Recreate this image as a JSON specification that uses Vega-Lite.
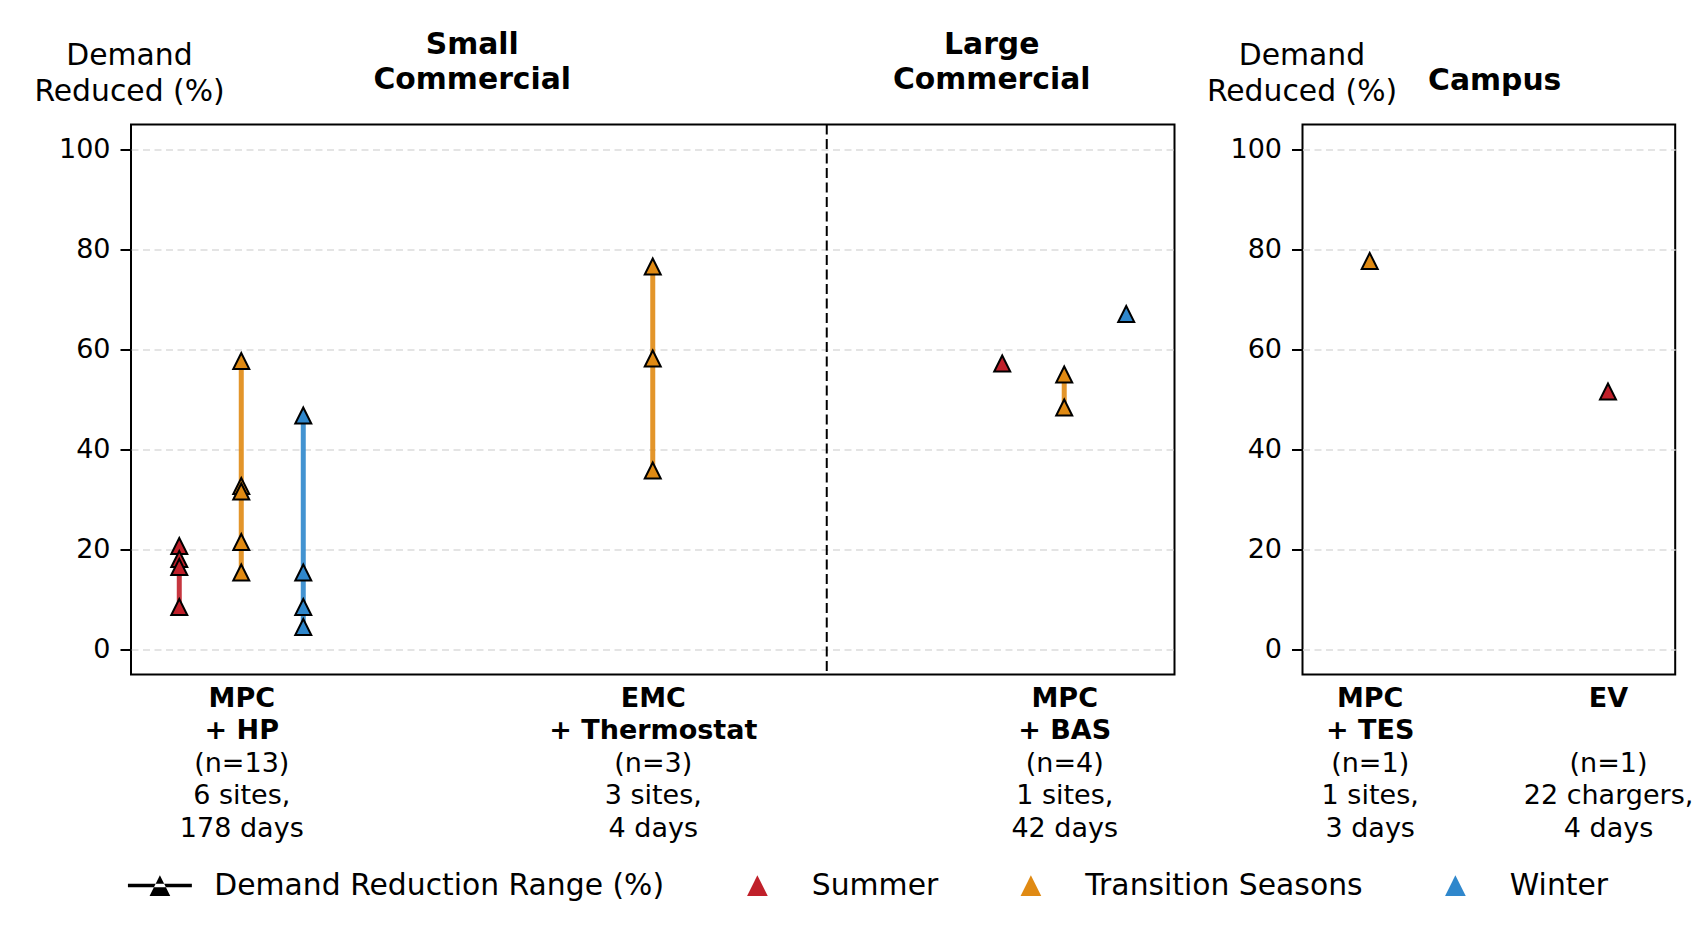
{
  "$schema": "https://vega.github.io/schema/vega-lite/v6.json",
  "padding": {"left": 32, "top": 27.5, "right": 5, "bottom": 5},
  "background": "white",
  "datasets": {
    "left": [
      {"group": "MPC + HP", "season": "Summer", "value": 20.7},
      {"group": "MPC + HP", "season": "Summer", "value": 18.1},
      {"group": "MPC + HP", "season": "Summer", "value": 16.5},
      {"group": "MPC + HP", "season": "Summer", "value": 8.5},
      {"group": "MPC + HP", "season": "Transition Seasons", "value": 57.7},
      {"group": "MPC + HP", "season": "Transition Seasons", "value": 32.7},
      {"group": "MPC + HP", "season": "Transition Seasons", "value": 31.6},
      {"group": "MPC + HP", "season": "Transition Seasons", "value": 21.5},
      {"group": "MPC + HP", "season": "Transition Seasons", "value": 15.4},
      {"group": "MPC + HP", "season": "Winter", "value": 46.8},
      {"group": "MPC + HP", "season": "Winter", "value": 15.4},
      {"group": "MPC + HP", "season": "Winter", "value": 8.5},
      {"group": "MPC + HP", "season": "Winter", "value": 4.5},
      {"group": "EMC + Thermostat", "season": "Transition Seasons", "value": 76.6},
      {"group": "EMC + Thermostat", "season": "Transition Seasons", "value": 58.2},
      {"group": "EMC + Thermostat", "season": "Transition Seasons", "value": 35.8},
      {"group": "MPC + BAS", "season": "Summer", "value": 57.2},
      {"group": "MPC + BAS", "season": "Transition Seasons", "value": 55.0},
      {"group": "MPC + BAS", "season": "Transition Seasons", "value": 48.4},
      {"group": "MPC + BAS", "season": "Winter", "value": 67.1}
    ],
    "right": [
      {"group": "MPC + TES", "season": "Transition Seasons", "value": 77.7},
      {"group": "EV", "season": "Summer", "value": 51.6}
    ]
  },
  "config": {
    "font": "DejaVu Sans",
    "view": {"stroke": "black", "strokeWidth": 2},
    "axis": {
      "labelFont": "DejaVu Sans",
      "titleFont": "DejaVu Sans",
      "labelColor": "black",
      "titleColor": "black",
      "domain": false
    },
    "legend": {"labelFont": "DejaVu Sans", "labelColor": "black"}
  },
  "resolve": {"scale": {"x": "independent", "y": "independent", "xOffset": "independent", "color": "shared", "shape": "shared", "stroke": "shared"}},
  "spacing": 127.5,
  "bounds": "flush",
  "hconcat": [
    {
      "width": 1043.5,
      "height": 550,
      "resolve": {"axis": {"x": "independent"}},
      "layer": [
        {
          "data": {"values": [{"group": "EMC + Thermostat"}]},
          "mark": {"type": "rule", "color": "black", "strokeWidth": 2, "strokeDash": [10, 4.5], "xOffset": 174},
          "encoding": {
            "x": {
              "field": "group", "type": "nominal",
              "scale": {"type": "point", "domain": ["MPC + HP", "EMC + Thermostat", "MPC + BAS"], "padding": 0.268},
              "axis": {
                "orient": "top", "title": null, "ticks": false, "tickSize": 0, "domain": false, "grid": false,
                "values": ["EMC + Thermostat", "MPC + BAS"],
                "labelExpr": "datum.value == 'EMC + Thermostat' ? ['Small', 'Commercial'] : ['Large', 'Commercial']",
                "labelFontWeight": "bold", "labelFontSize": 29.8, "labelLineHeight": 35.5, "labelAngle": 0,
                "labelBaseline": "alphabetic", "labelAlign": "center", "labelPadding": 71.2,
                "labelOffset": {"condition": {"test": "datum.value == 'EMC + Thermostat'", "value": -181}, "value": -73},
                "labelLimit": 1000, "labelOverlap": false, "labelBound": false
              }
            }
          }
        },
        {
          "data": {"name": "left"},
          "mark": {"type": "rule", "strokeWidth": 5, "opacity": 0.9},
          "encoding": {
            "x": {
              "field": "group", "type": "nominal",
              "scale": {"type": "point", "domain": ["MPC + HP", "EMC + Thermostat", "MPC + BAS"], "padding": 0.268},
              "axis": {
                "orient": "bottom", "title": null, "ticks": false, "tickSize": 0, "domain": false, "grid": false,
                "labelExpr": "datum.value == 'MPC + HP' ? ['MPC', '+ HP'] : datum.value == 'EMC + Thermostat' ? ['EMC', '+ Thermostat'] : ['MPC', '+ BAS']",
                "labelFontWeight": "bold", "labelFontSize": 27, "labelLineHeight": 32.5,
                "labelBaseline": "top", "labelAlign": "center", "labelPadding": 10.7,
                "labelLimit": 1000, "labelOverlap": false, "labelAngle": 0
              }
            },
            "xOffset": {"field": "season", "type": "nominal", "scale": {"type": "point", "domain": ["Summer", "Transition Seasons", "Winter"], "range": [-62, 62], "padding": 0}},
            "y": {
              "aggregate": "min", "field": "value", "type": "quantitative",
              "scale": {"domain": [-5, 105], "nice": false, "zero": false},
              "axis": {
                "values": [0, 20, 40, 60, 80, 100],
                "title": ["Demand", "Reduced (%)"],
                "titleAngle": 0, "titleAlign": "center", "titleBaseline": "alphabetic",
                "titleX": -2, "titleY": -59.7, "titleFontSize": 29.8, "titleFontWeight": "normal", "titleLineHeight": 36,
                "labelFontSize": 27, "labelPadding": 10, "tickSize": 11, "tickWidth": 2, "tickColor": "black",
                "grid": true, "gridColor": "#dcdcdc", "gridDash": [7, 4.5], "gridWidth": 1.3
              }
            },
            "y2": {"aggregate": "max", "field": "value"},
            "stroke": {
              "field": "season", "type": "nominal",
              "scale": {"domain": ["Summer", "Transition Seasons", "Winter"], "range": ["#c0202a", "#e08a13", "#2f87cc"]},
              "legend": null
            }
          }
        },
        {
          "data": {"name": "left"},
          "mark": {"type": "point", "filled": true, "opacity": 1, "size": 256, "stroke": "black", "strokeWidth": 2},
          "encoding": {
            "x": {
              "field": "group", "type": "nominal",
              "scale": {"type": "point", "domain": ["MPC + HP", "EMC + Thermostat", "MPC + BAS"], "padding": 0.268},
              "axis": {
                "orient": "bottom", "title": null, "ticks": false, "tickSize": 0, "domain": false, "grid": false,
                "labelExpr": "datum.value == 'MPC + HP' ? ['(n=13)', '6 sites,', '178 days'] : datum.value == 'EMC + Thermostat' ? ['(n=3)', '3 sites,', '4 days'] : ['(n=4)', '1 sites,', '42 days']",
                "labelFontWeight": "normal", "labelFontSize": 27, "labelLineHeight": 32.5,
                "labelBaseline": "top", "labelAlign": "center", "labelPadding": 75.7,
                "labelLimit": 1000, "labelOverlap": false, "labelAngle": 0
              }
            },
            "xOffset": {"field": "season", "type": "nominal", "scale": {"type": "point", "domain": ["Summer", "Transition Seasons", "Winter"], "range": [-62, 62], "padding": 0}},
            "y": {
              "field": "value", "type": "quantitative",
              "scale": {"domain": [-5, 105], "nice": false, "zero": false},
              "axis": {
                "values": [0, 20, 40, 60, 80, 100],
                "title": ["Demand", "Reduced (%)"],
                "titleAngle": 0, "titleAlign": "center", "titleBaseline": "alphabetic",
                "titleX": -2, "titleY": -59.7, "titleFontSize": 29.8, "titleFontWeight": "normal", "titleLineHeight": 36,
                "labelFontSize": 27, "labelPadding": 10, "tickSize": 11, "tickWidth": 2, "tickColor": "black",
                "grid": true, "gridColor": "#dcdcdc", "gridDash": [7, 4.5], "gridWidth": 1.3
              }
            },
            "color": {
              "field": "season", "type": "nominal",
              "scale": {"domain": ["Demand Reduction Range (%)", "Summer", "Transition Seasons", "Winter"], "range": ["black", "#c0202a", "#e08a13", "#2f87cc"]},
              "legend": {
                "title": null, "orient": "none", "legendX": 14, "legendY": 746,
                "direction": "horizontal", "columns": 4, "symbolSize": 428, "symbolStrokeWidth": 0,
                "labelFontSize": 29.8, "labelOffset": 39.5, "columnPadding": 77.5, "labelLimit": 1000, "padding": 0
              }
            },
            "shape": {
              "field": "season", "type": "nominal",
              "scale": {"domain": ["Demand Reduction Range (%)", "Summer", "Transition Seasons", "Winter"], "range": ["M-3.09,-0.164H3.09V0.164H-3.09Z M0,-1L-1,1L1,1Z", "M0,-1L-1,1L1,1Z", "M0,-1L-1,1L1,1Z", "M0,-1L-1,1L1,1Z"]},
              "legend": {
                "title": null, "orient": "none", "legendX": 14, "legendY": 746,
                "direction": "horizontal", "columns": 4, "symbolSize": 428, "symbolStrokeWidth": 0,
                "labelFontSize": 29.8, "labelOffset": 39.5, "columnPadding": 77.5, "labelLimit": 1000, "padding": 0
              }
            }
          }
        }
      ]
    },
    {
      "width": 372.7,
      "height": 550,
      "resolve": {"axis": {"x": "independent"}},
      "layer": [
        {
          "data": {"values": [{"group": "MPC + TES"}]},
          "mark": {"type": "rule", "opacity": 0},
          "encoding": {
            "x": {
              "field": "group", "type": "nominal",
              "scale": {"type": "point", "domain": ["MPC + TES", "EV"], "padding": 0.282},
              "axis": {
                "orient": "top", "title": null, "ticks": false, "tickSize": 0, "domain": false, "grid": false,
                "values": ["MPC + TES"],
                "labelExpr": "'Campus'",
                "labelFontWeight": "bold", "labelFontSize": 29.8, "labelAngle": 0,
                "labelBaseline": "alphabetic", "labelAlign": "center", "labelPadding": 35.2,
                "labelOffset": 124.5, "labelLimit": 1000, "labelOverlap": false, "labelBound": false
              }
            }
          }
        },
        {
          "data": {"name": "right"},
          "mark": {"type": "rule", "strokeWidth": 5, "opacity": 0.9},
          "encoding": {
            "x": {
              "field": "group", "type": "nominal",
              "scale": {"type": "point", "domain": ["MPC + TES", "EV"], "padding": 0.282},
              "axis": {
                "orient": "bottom", "title": null, "ticks": false, "tickSize": 0, "domain": false, "grid": false,
                "labelExpr": "datum.value == 'MPC + TES' ? ['MPC', '+ TES'] : ['EV', '']",
                "labelFontWeight": "bold", "labelFontSize": 27, "labelLineHeight": 32.5,
                "labelBaseline": "top", "labelAlign": "center", "labelPadding": 10.7,
                "labelLimit": 1000, "labelOverlap": false, "labelAngle": 0
              }
            },
            "y": {
              "aggregate": "min", "field": "value", "type": "quantitative",
              "scale": {"domain": [-5, 105], "nice": false, "zero": false},
              "axis": {
                "values": [0, 20, 40, 60, 80, 100],
                "title": ["Demand", "Reduced (%)"],
                "titleAngle": 0, "titleAlign": "center", "titleBaseline": "alphabetic",
                "titleX": -1, "titleY": -59.7, "titleFontSize": 29.8, "titleFontWeight": "normal", "titleLineHeight": 36,
                "labelFontSize": 27, "labelPadding": 10, "tickSize": 11, "tickWidth": 2, "tickColor": "black",
                "grid": true, "gridColor": "#dcdcdc", "gridDash": [7, 4.5], "gridWidth": 1.3
              }
            },
            "y2": {"aggregate": "max", "field": "value"},
            "stroke": {
              "field": "season", "type": "nominal",
              "scale": {"domain": ["Summer", "Transition Seasons", "Winter"], "range": ["#c0202a", "#e08a13", "#2f87cc"]},
              "legend": null
            }
          }
        },
        {
          "data": {"name": "right"},
          "mark": {"type": "point", "filled": true, "opacity": 1, "size": 256, "stroke": "black", "strokeWidth": 2},
          "encoding": {
            "x": {
              "field": "group", "type": "nominal",
              "scale": {"type": "point", "domain": ["MPC + TES", "EV"], "padding": 0.282},
              "axis": {
                "orient": "bottom", "title": null, "ticks": false, "tickSize": 0, "domain": false, "grid": false,
                "labelExpr": "datum.value == 'MPC + TES' ? ['(n=1)', '1 sites,', '3 days'] : ['(n=1)', '22 chargers,', '4 days']",
                "labelFontWeight": "normal", "labelFontSize": 27, "labelLineHeight": 32.5,
                "labelBaseline": "top", "labelAlign": "center", "labelPadding": 75.7,
                "labelLimit": 1000, "labelOverlap": false, "labelAngle": 0
              }
            },
            "y": {
              "field": "value", "type": "quantitative",
              "scale": {"domain": [-5, 105], "nice": false, "zero": false},
              "axis": {
                "values": [0, 20, 40, 60, 80, 100],
                "title": ["Demand", "Reduced (%)"],
                "titleAngle": 0, "titleAlign": "center", "titleBaseline": "alphabetic",
                "titleX": -1, "titleY": -59.7, "titleFontSize": 29.8, "titleFontWeight": "normal", "titleLineHeight": 36,
                "labelFontSize": 27, "labelPadding": 10, "tickSize": 11, "tickWidth": 2, "tickColor": "black",
                "grid": true, "gridColor": "#dcdcdc", "gridDash": [7, 4.5], "gridWidth": 1.3
              }
            },
            "color": {
              "field": "season", "type": "nominal",
              "scale": {"domain": ["Demand Reduction Range (%)", "Summer", "Transition Seasons", "Winter"], "range": ["black", "#c0202a", "#e08a13", "#2f87cc"]},
              "legend": {
                "title": null, "orient": "none", "legendX": 14, "legendY": 746,
                "direction": "horizontal", "columns": 4, "symbolSize": 428, "symbolStrokeWidth": 0,
                "labelFontSize": 29.8, "labelOffset": 39.5, "columnPadding": 77.5, "labelLimit": 1000, "padding": 0
              }
            },
            "shape": {
              "field": "season", "type": "nominal",
              "scale": {"domain": ["Demand Reduction Range (%)", "Summer", "Transition Seasons", "Winter"], "range": ["M-3.09,-0.164H3.09V0.164H-3.09Z M0,-1L-1,1L1,1Z", "M0,-1L-1,1L1,1Z", "M0,-1L-1,1L1,1Z", "M0,-1L-1,1L1,1Z"]},
              "legend": {
                "title": null, "orient": "none", "legendX": 14, "legendY": 746,
                "direction": "horizontal", "columns": 4, "symbolSize": 428, "symbolStrokeWidth": 0,
                "labelFontSize": 29.8, "labelOffset": 39.5, "columnPadding": 77.5, "labelLimit": 1000, "padding": 0
              }
            }
          }
        }
      ]
    }
  ]
}
